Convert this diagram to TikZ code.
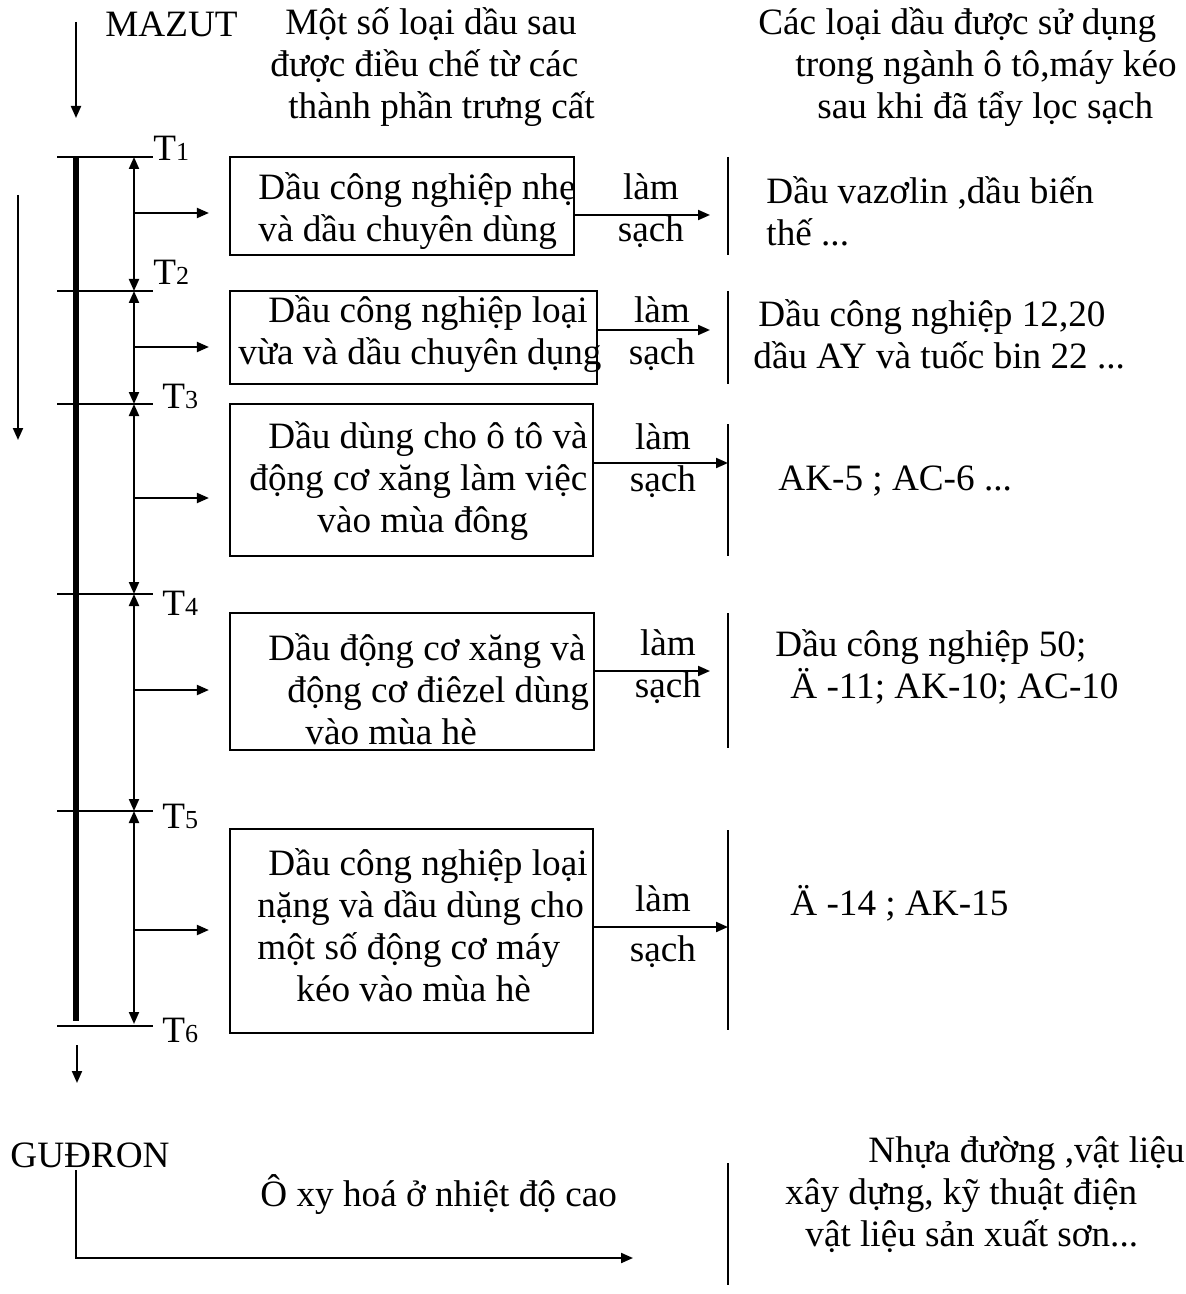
\documentclass[tikz,border=0pt]{standalone}
\usepackage{fontspec}
\setmainfont{Liberation Serif}
\usetikzlibrary{arrows.meta, fit}
\newcommand{\Tn}[1]{T{\fontsize{13pt}{13pt}\selectfont #1}}
\tikzset{
  txt/.style    ={font=\fontsize{18.6pt}{21pt}\selectfont, inner sep=0pt, align=left},
  oilbox/.style ={draw, line width=1.1pt, inner sep=0pt},
  flow/.style   ={-{Triangle[length=6pt, width=5pt]}, line width=1pt},
  span/.style   ={{Triangle[length=6pt, width=5pt]}-{Triangle[length=6pt, width=5pt]}, line width=1pt},
  level/.style  ={line width=1.1pt},
  trunk/.style  ={line width=2.6pt},
  bar/.style    ={line width=1.2pt},
}

\begin{document}
\begin{tikzpicture}[x=0.5pt, y=-0.5pt]
  \useasboundingbox (0,0) rectangle (1185,1294);

  % headers
  \node[txt, anchor=west] (mazut) at (105,24) {MAZUT};
  \node[txt, anchor=west] (hmid) at (270,67)
    {\hspace*{7.5pt}Một số loại dầu sau\\được điều chế từ các\\\hspace*{9pt}thành phần trưng cất};
  \node[txt, anchor=west] (hright) at (758,67)
    {Các loại dầu được sử dụng\\\hspace*{18.5pt}trong ngành ô tô,máy kéo\\\hspace*{29.5pt}sau khi đã tẩy lọc sạch};

  % incoming flows
  \coordinate (in0) at (76,22);
  \coordinate (in1) at (76,118);
  \draw[flow] (in0) -- (in1);
  \coordinate (down0) at (18,195);
  \coordinate (down1) at (18,440);
  \draw[flow] (down0) -- (down1);

  % distillation column and cut levels
  \draw[trunk] (76,157) -- (76,1021);
  \draw[level] (57,157) -- (153,157);
  \draw[level] (57,291) -- (153,291);
  \draw[level] (57,404) -- (153,404);
  \draw[level] (57,594) -- (153,594);
  \draw[level] (57,811) -- (153,811);
  \draw[level] (57,1026) -- (153,1026);
  \node[txt, anchor=west] (t1) at (153,148) {\Tn{1}};
  \node[txt, anchor=west] (t2) at (153,272) {\Tn{2}};
  \node[txt, anchor=west] (t3) at (162,396) {\Tn{3}};
  \node[txt, anchor=west] (t4) at (162,603) {\Tn{4}};
  \node[txt, anchor=west] (t5) at (162,816) {\Tn{5}};
  \node[txt, anchor=west] (t6) at (162,1030) {\Tn{6}};
  \draw[span] (134,157) -- (134,291);
  \draw[span] (134,291) -- (134,404);
  \draw[span] (134,404) -- (134,594);
  \draw[span] (134,594) -- (134,811);
  \draw[span] (134,811) -- (134,1024);

  % fractions
  \node[oilbox, fit={(230,157) (574,255)}] (b1) {};
  \node[oilbox, fit={(230,291) (597,384)}] (b2) {};
  \node[oilbox, fit={(230,404) (593,556)}] (b3) {};
  \node[oilbox, fit={(230,613) (594,750)}] (b4) {};
  \node[oilbox, fit={(230,829) (593,1033)}] (b5) {};
  \node[txt, anchor=west] (b1t) at (258,211)
    {Dầu công nghiệp nhẹ\\và dầu chuyên dùng};
  \node[txt, anchor=west] (b2t) at (238,334)
    {\hspace*{15pt}Dầu công nghiệp loại\\vừa và dầu chuyên dụng};
  \node[txt, anchor=west] (b3t) at (249,481)
    {\hspace*{9.5pt}Dầu dùng cho ô tô và\\động cơ xăng làm việc\\\hspace*{34pt}vào mùa đông};
  \node[txt, anchor=west] (b4t) at (268,689)
    {Dầu động cơ xăng và\\\hspace*{9.5pt}động cơ điêzel dùng\\\hspace*{18.5pt}vào mùa hè};
  \node[txt, anchor=west] (b5t) at (257,925)
    {\hspace*{5.5pt}Dầu công nghiệp loại\\nặng và dầu dùng cho\\một số động cơ máy\\\hspace*{19.5pt}kéo vào mùa hè};

  \coordinate (a1) at (134,213);
  \coordinate (a2) at (134,347);
  \coordinate (a3) at (134,498);
  \coordinate (a4) at (134,690);
  \coordinate (a5) at (134,930);
  \draw[flow, shorten >=10pt] (a1) -- (a1 -| b1.west);
  \draw[flow, shorten >=10pt] (a2) -- (a2 -| b2.west);
  \draw[flow, shorten >=10pt] (a3) -- (a3 -| b3.west);
  \draw[flow, shorten >=10pt] (a4) -- (a4 -| b4.west);
  \draw[flow, shorten >=10pt] (a5) -- (a5 -| b5.west);

  % cleaning step
  \node[txt, align=center] (c1) at (651,211) {làm\\sạch};
  \node[txt, align=center] (c2) at (662,334) {làm\\sạch};
  \node[txt, align=center] (c3) at (663,461) {làm\\sạch};
  \node[txt, align=center] (c4) at (668,667) {làm\\sạch};
  \node[txt, align=center] (c5) at (663,927) {làm\\[4pt]sạch};
  \coordinate (e1) at (710,215);
  \coordinate (e2) at (710,330);
  \coordinate (e3) at (728,463);
  \coordinate (e4) at (710,671);
  \coordinate (e5) at (728,927);
  \draw[flow] (e1 -| b1.east) -- (e1);
  \draw[flow] (e2 -| b2.east) -- (e2);
  \draw[flow] (e3 -| b3.east) -- (e3);
  \draw[flow] (e4 -| b4.east) -- (e4);
  \draw[flow] (e5 -| b5.east) -- (e5);

  \draw[bar] (728,157) -- (728,255);
  \draw[bar] (728,291) -- (728,384);
  \draw[bar] (728,424) -- (728,556);
  \draw[bar] (728,613) -- (728,748);
  \draw[bar] (728,830) -- (728,1030);
  \draw[bar] (728,1163) -- (728,1285);

  % products
  \node[txt, anchor=west] (o1) at (766,211) {Dầu vazơlin ,dầu biến\\thế ...};
  \node[txt, anchor=west] (o2) at (753,334)
    {\hspace*{2.5pt}Dầu công nghiệp 12,20\\dầu AY và tuốc bin 22 ...};
  \node[txt, anchor=west] (o3) at (778,481) {AK-5 ; AC-6 ...};
  \node[txt, anchor=west] (o4) at (775,667)
    {Dầu công nghiệp 50;\\\hspace*{7.5pt}Ä -11; AK-10; AC-10};
  \node[txt, anchor=west] (o5) at (790,903) {Ä -14 ; AK-15};

  % residue
  \coordinate (out0) at (77,1045);
  \coordinate (out1) at (77,1083);
  \draw[flow] (out0) -- (out1);
  \node[txt, anchor=west] (gud) at (10,1155) {GUĐRON};
  \node[txt, anchor=west] (oxy) at (260,1195) {Ô xy hoá ở nhiệt độ cao};
  \coordinate (g0) at (76,1170);
  \coordinate (g1) at (633,1258);
  \draw[flow] (g0) |- (g1);
  \node[txt, anchor=west] (asph) at (785,1195)
    {\hspace*{41.5pt}Nhựa đường ,vật liệu\\xây dựng, kỹ thuật điện\\\hspace*{10pt}vật liệu sản xuất sơn...};
\end{tikzpicture}
\end{document}
